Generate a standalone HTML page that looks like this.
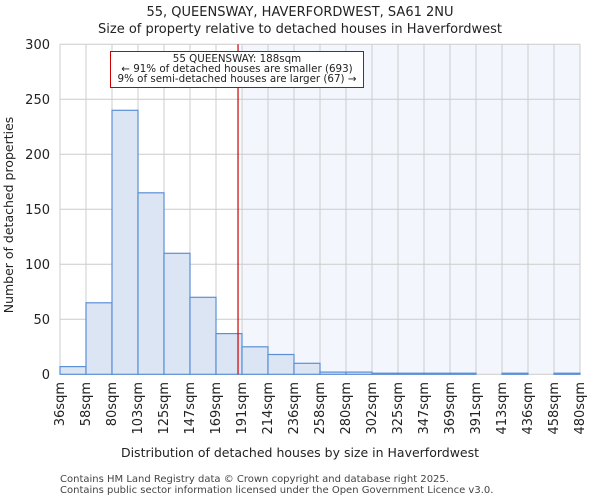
<!DOCTYPE html>
<html><head><meta charset="utf-8"><style>
body{margin:0;background:#fff;font-family:"DejaVu Sans","Liberation Sans",sans-serif;}
</style></head><body>
<svg id="c" width="600" height="500" xmlns="http://www.w3.org/2000/svg" font-family="DejaVu Sans, Liberation Sans, sans-serif">
<text x="300" y="16" text-anchor="middle" font-size="13" fill="#222">55, QUEENSWAY, HAVERFORDWEST, SA61 2NU</text>
<text x="300" y="33" text-anchor="middle" font-size="13" fill="#222">Size of property relative to detached houses in Haverfordwest</text>
<g id="plot"></g>
<text x="300" y="457" text-anchor="middle" font-size="12.5" fill="#222">Distribution of detached houses by size in Haverfordwest</text>
<text transform="translate(13,215) rotate(-90)" text-anchor="middle" font-size="12.5" fill="#222">Number of detached properties</text>
<text x="60" y="482" font-size="10" fill="#444">Contains HM Land Registry data © Crown copyright and database right 2025.</text>
<text x="60" y="493" font-size="10" fill="#444">Contains public sector information licensed under the Open Government Licence v3.0.</text>
</svg>
<script>
const binLabels=["36sqm","58sqm","80sqm","103sqm","125sqm","147sqm","169sqm","191sqm","214sqm","236sqm","258sqm","280sqm","302sqm","325sqm","347sqm","369sqm","391sqm","413sqm","436sqm","458sqm","480sqm"];
const counts=[7,65,240,165,110,70,37,25,18,10,2,2,1,1,1,1,0,1,0,1];
const yTicks=[0,50,100,150,200,250,300];
const subjectSize=188;
const binStart=36, binEnd=480;
const NS="http://www.w3.org/2000/svg";
const L=60,R=580,T=44.3,B=374.3,yMax=300;
const n=counts.length,bw=(R-L)/n;
const xs=v=>L+(v-binStart)/(binEnd-binStart)*(R-L);
const xi=i=>L+i*bw;
const ys=v=>B-v/yMax*(B-T);
const g=document.getElementById('plot');
function mk(t,a){const e=document.createElementNS(NS,t);for(const k in a)e.setAttribute(k,a[k]);g.appendChild(e);return e;}
let e=mk('rect',{x:L,y:T,width:R-L,height:B-T,fill:'#fff'});


const sx=xi(Math.ceil((subjectSize-binStart)/(binEnd-binStart)*n));
e=mk('rect',{x:sx,y:T,width:R-sx,height:B-T,fill:'#f3f6fd'});


for(let i=0;i<=n;i++){e=mk('line',{x1:xi(i),x2:xi(i),y1:T,y2:B,stroke:'#ccc','stroke-width':1});

}
yTicks.forEach(t=>{e=mk('line',{x1:L,x2:R,y1:ys(t),y2:ys(t),stroke:'#ccc','stroke-width':1});


e=mk('text',{x:L-10,y:ys(t)+4.5,'text-anchor':'end','font-size':13,fill:'#222'});e.textContent=t;

});
counts.forEach((c,i)=>{if(c<=0)return;e=mk('rect',{x:xi(i),y:ys(c),width:bw,height:B-ys(c),fill:'#dbe5f4',stroke:'#5b8fd6','stroke-width':1.2});

});
binLabels.forEach((l,i)=>{const x=xi(i)+4;e=mk('text',{x:x,y:382,'text-anchor':'end','font-size':13,fill:'#222',transform:`rotate(-90 ${x} 382)`});e.textContent=l;

});
const rx=xs(subjectSize);
e=mk('line',{x1:rx,x2:rx,y1:T,y2:B,stroke:'#cc0000','stroke-width':1.2});


e=mk('rect',{x:110.5,y:51.5,width:253,height:36,fill:'#fff',stroke:'#cc0000','stroke-width':1});


["55 QUEENSWAY: 188sqm","← 91% of detached houses are smaller (693)","9% of semi-detached houses are larger (67) →"].forEach((s,k)=>{e=mk('text',{x:237,y:62+k*10,'text-anchor':'middle','font-size':10.3,fill:'#222'});e.textContent=s;

});
</script>
</body></html>
